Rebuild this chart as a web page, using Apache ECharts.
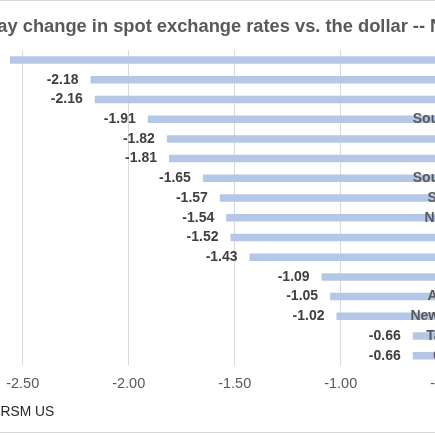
<!DOCTYPE html>
<html>
<head>
<meta charset="utf-8">
<script src="https://cdn.jsdelivr.net/npm/echarts@6/dist/echarts.min.js"></script>
<style>
  html, body { margin: 0; padding: 0; width: 435px; height: 435px; overflow: hidden; background: #ffffff; }
  #chart { position: absolute; left: -150px; top: 0; width: 800px; height: 435px; }
</style>
</head>
<body>
<div id="chart"></div>
<script>
const titleText = 'One-day change in spot exchange rates vs. the dollar -- Nov. 9';
const sourceText = 'Source: RSM US';
const categories = ['Mexico', 'Brazil', 'Chile', 'South Africa', 'Turkey', 'Russia', 'South Korea', 'Singapore', 'Norwegian', 'Euro', 'Sweden', 'Japan', 'Australian', 'New Zealand', 'Taiwanese', 'Canadian'];
const changes = [-2.56, -2.18, -2.16, -1.91, -1.82, -1.81, -1.65, -1.57, -1.54, -1.52, -1.43, -1.09, -1.05, -1.02, -0.66, -0.66];

const FONT = '"Liberation Sans", Arial, sans-serif';
const chart = echarts.init(document.getElementById('chart'), null, { renderer: 'canvas' });
chart.setOption({
  animation: false,
  backgroundColor: '#ffffff',
  title: {
    text: titleText,
    left: 94.5,
    top: 18,
    padding: 0,
    textStyle: { fontFamily: FONT, fontSize: 18.3, fontWeight: 'bold', color: '#595959', lineHeight: 18 }
  },
  graphic: [
    {
      type: 'rect',
      shape: { x: 20, y: 0.5, width: 760, height: 432 },
      style: { fill: 'none', stroke: '#d9d9d9', lineWidth: 1 },
      silent: true
    },
    {
      type: 'text',
      x: 99.2,
      y: 412,
      style: { text: sourceText, font: '13.8px "Liberation Sans", Arial, sans-serif', fill: '#262626', textVerticalAlign: 'middle' },
      silent: true
    }
  ],
  grid: { left: 66.7, right: 97.3, top: 50.2, bottom: 69.4, containLabel: false },
  xAxis: {
    type: 'value',
    min: -3,
    max: 0,
    interval: 0.5,
    axisLine: { show: false },
    axisTick: { show: false },
    splitLine: { show: true, lineStyle: { color: '#d9d9d9', width: 1 } },
    axisLabel: {
      margin: 11,
      fontFamily: FONT,
      fontSize: 14.5,
      lineHeight: 14,
      color: '#595959',
      formatter: v => v.toFixed(2)
    }
  },
  yAxis: {
    type: 'category',
    data: categories,
    inverse: true,
    position: 'right',
    z: 10,
    axisLine: { show: false },
    axisTick: { show: false },
    splitLine: { show: false },
    axisLabel: {
      inside: true,
      margin: 56.7,
      fontFamily: FONT,
      fontSize: 14,
      fontWeight: 'bold',
      color: '#595959'
    }
  },
  series: [{
    type: 'bar',
    data: changes,
    barWidth: 7.5,
    itemStyle: { color: '#b4c7e7' },
    label: {
      show: true,
      position: 'left',
      distance: 12,
      fontFamily: FONT,
      fontSize: 14,
      fontWeight: 'bold',
      color: '#404040',
      formatter: p => p.value.toFixed(2)
    }
  }]
});
</script>
</body>
</html>
